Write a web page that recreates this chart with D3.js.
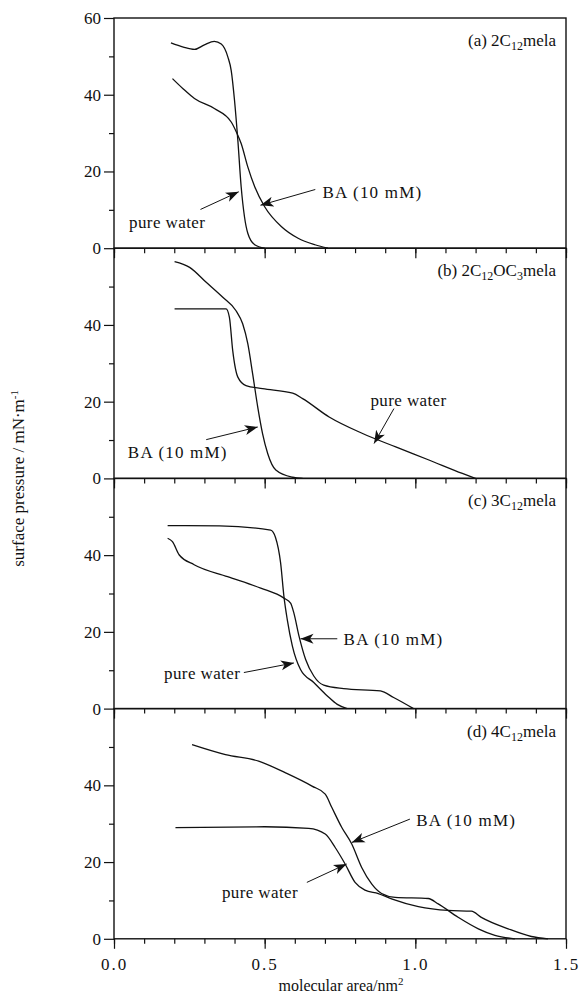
<!DOCTYPE html>
<html>
<head>
<meta charset="utf-8">
<script src="https://cdn.jsdelivr.net/npm/d3@7"></script>
<style>
  body { margin: 0; background: #fff; }
  text { font-family: "Liberation Serif", "DejaVu Serif", serif; fill: #111; }
</style>
</head>
<body>
<div class="chart"></div>
<script>
var width = 583;
var height = 994;

// panel captions: [before subscript, subscript, ...]
var panelLabels = [
  ["(a) 2C", "12", "mela"],
  ["(b) 2C", "12", "OC", "3", "mela"],
  ["(c) 3C", "12", "mela"],
  ["(d) 4C", "12", "mela"]
];

// isotherms, [area nm^2, pressure mN/m]
var pureA = [[0.189,53.5],[0.23,52.4],[0.267,51.8],[0.30,53],[0.333,53.9],[0.356,53.2],[0.378,49.8],[0.389,46.3],[0.4,38.5],[0.411,28.1],[0.422,16],[0.433,8.2],[0.444,3.9],[0.467,0.9],[0.5,0]];
var baA = [[0.194,44.2],[0.23,41.5],[0.267,39],[0.333,36.4],[0.389,32.9],[0.406,30.3],[0.422,27.3],[0.444,21.2],[0.467,16],[0.5,10.8],[0.556,5.6],[0.611,2.6],[0.667,0.9],[0.71,0]];

var pureB = [[0.201,44.2],[0.372,44.2],[0.383,42],[0.394,33.3],[0.411,26.4],[0.438,24.2],[0.493,23.4],[0.593,22.2],[0.626,20.8],[0.714,16],[0.825,11.7],[0.935,8.2],[1.045,4.8],[1.156,1.3],[1.2,0]];
var baB = [[0.201,56.5],[0.251,55],[0.306,51.1],[0.361,47.2],[0.405,43.7],[0.427,40.3],[0.444,35.1],[0.46,27.3],[0.477,18.6],[0.493,11.7],[0.51,6.5],[0.537,2.2],[0.593,0.3],[0.626,0]];

var pureC = [[0.178,47.7],[0.35,47.6],[0.52,46.5],[0.536,44.6],[0.553,37.9],[0.564,29.2],[0.575,23.2],[0.592,16.3],[0.619,10.2],[0.663,6.8],[0.708,3.3],[0.741,1.1],[0.774,0]];
var baC = [[0.178,44.4],[0.194,43.5],[0.216,40.1],[0.266,37.5],[0.377,34.4],[0.487,31.4],[0.564,28.8],[0.586,27.5],[0.597,24.9],[0.614,18.9],[0.636,12.8],[0.663,8.5],[0.696,6.1],[0.762,5.2],[0.884,4.6],[0.928,2.9],[0.994,0]];

var pureD = [[0.204,29],[0.5,29.2],[0.646,28.8],[0.701,27.3],[0.734,23.8],[0.767,19.5],[0.8,14.7],[0.833,12.7],[0.877,11.8],[0.921,10.4],[1.01,8.4],[1.109,7.4],[1.186,7.2],[1.219,5.6],[1.308,2.6],[1.385,0.6],[1.44,0]];
var baD = [[0.259,50.6],[0.37,48],[0.48,46.3],[0.568,43.3],[0.657,39.8],[0.701,37.7],[0.723,34.2],[0.756,29],[0.789,24.7],[0.822,18.6],[0.855,14.3],[0.888,11.8],[0.933,10.8],[1.043,10.5],[1.076,9.1],[1.142,5.6],[1.209,2.6],[1.264,0.9],[1.33,0]];

var pureSeries = [pureA, pureB, pureC, pureD];
var baSeries = [baA, baB, baC, baD];

// annotations: text anchor (x,y) and arrow from -> to, in data units
var pureNotes = [
  {tx: 0.05, ty: 5.3, x1: 0.287, y1: 10.1, x2: 0.414, y2: 14.7},
  {tx: 0.851, ty: 19, x1: 0.929, y1: 18.2, x2: 0.863, y2: 9.1},
  {tx: 0.166, ty: 7.6, x1: 0.431, y1: 9.4, x2: 0.597, y2: 11.9},
  {tx: 0.358, ty: 10.7, x1: 0.64, y1: 14.7, x2: 0.772, y2: 19.5}
];
var baNotes = [
  {tx: 0.692, ty: 13, x1: 0.668, y1: 15.3, x2: 0.486, y2: 11.2},
  {tx: 0.046, ty: 5.3, x1: 0.306, y1: 10.1, x2: 0.477, y2: 13.4},
  {tx: 0.762, ty: 16.7, x1: 0.741, y1: 18.2, x2: 0.619, y2: 18.2},
  {tx: 1.003, ty: 29.4, x1: 0.982, y1: 31.2, x2: 0.789, y2: 25.1}
];

var xMajor = [0, 0.5, 1.0, 1.5];
var xMinor = d3.range(0, 1.51, 0.1);
var yMajorFirst = [0, 20, 40, 60];
var yMajor = [0, 20, 40];
var yMinor = [10, 30, 50];

var left = 114, right = 566;
var top0 = 18, panelH = 230.2;

var svg = d3.select("div.chart").append("svg")
    .attr("width", width)
    .attr("height", height);

svg.append("defs").append("marker")
    .attr("id", "arr")
    .attr("markerUnits", "userSpaceOnUse")
    .attr("markerWidth", 14).attr("markerHeight", 11)
    .attr("refX", 13).attr("refY", 5.5)
    .attr("orient", "auto")
  .append("path")
    .attr("d", "M0,0.5 L13,5.5 L0,10.5 L3.5,5.5 Z")
    .attr("fill", "#111");

var x = d3.scaleLinear().domain([0, 1.5]).range([left, right]);

var this_y;
var line = d3.line()
    .x(function(d){ return x(d[0]) })
    .y(function(d){ return this_y(d[1]) })
    .curve(d3.curveMonotoneX);

for (var i = 0; i < 4; i++) {
  var pTop = top0 + i * panelH;
  var y = d3.scaleLinear().domain([0, 60]).range([pTop + panelH, pTop]);
  this_y = y;
  var g = svg.append("g");

  // y axis, major ticks outward with labels
  var ya = g.append("g").attr("transform", "translate(" + left + ",0)")
      .call(d3.axisLeft(y).tickValues(i == 0 ? yMajorFirst : yMajor).tickSize(10).tickPadding(3).tickFormat(d3.format("d")));
  ya.select(".domain").remove();
  ya.selectAll("text").style("font-size", "17px").attr("fill", "#111");
  var ym = g.append("g").attr("transform", "translate(" + left + ",0)")
      .call(d3.axisLeft(y).tickValues(yMinor).tickSize(5).tickFormat(""));
  ym.select(".domain").remove();

  // x ticks hanging below each zero line
  var xa = g.append("g").attr("transform", "translate(0," + y(0) + ")")
      .call(d3.axisBottom(x).tickValues(xMajor).tickSize(10).tickPadding(9)
        .tickFormat(i == 3 ? d3.format(".1f") : ""));
  xa.select(".domain").remove();
  xa.selectAll("text").style("font-size", "17px").style("letter-spacing", "2px").attr("fill", "#111");
  var xm = g.append("g").attr("transform", "translate(0," + y(0) + ")")
      .call(d3.axisBottom(x).tickValues(xMinor).tickSize(5).tickFormat(""));
  xm.select(".domain").remove();
  g.selectAll(".tick line").attr("stroke", "#111").attr("stroke-width", 1.2);

  // frame
  g.append("rect")
      .attr("x", left).attr("y", pTop)
      .attr("width", right - left).attr("height", panelH)
      .attr("fill", "none").attr("stroke", "#111").attr("stroke-width", 1.4);

  // curves
  [pureSeries[i], baSeries[i]].forEach(function(s) {
    g.append("path")
        .attr("d", line(s))
        .attr("fill", "none")
        .attr("stroke", "#111")
        .attr("stroke-width", 1.3);
  });

  // caption
  var cap = g.append("text")
      .attr("x", right - 10).attr("y", pTop + 28)
      .attr("text-anchor", "end")
      .style("font-size", "17px");
  panelLabels[i].forEach(function(part, k) {
    var sub = k % 2 == 1;
    cap.append("tspan")
        .attr("dy", sub ? 4 : (k > 0 ? -4 : 0))
        .style("font-size", sub ? "12px" : "17px")
        .text(part);
  });

  // annotations
  [[pureNotes[i], "pure water"], [baNotes[i], "BA (10 mM)"]].forEach(function(n) {
    var a = n[0];
    g.append("text")
        .attr("x", x(a.tx)).attr("y", this_y(a.ty))
        .style("font-size", "17px")
        .style("letter-spacing", n[1] == "pure water" ? "0.4px" : "1.2px")
        .text(n[1]);
    g.append("line")
        .attr("x1", x(a.x1)).attr("y1", this_y(a.y1))
        .attr("x2", x(a.x2)).attr("y2", this_y(a.y2))
        .attr("stroke", "#111").attr("stroke-width", 1)
        .attr("marker-end", "url(#arr)");
  });
}

// axis titles
var xt = svg.append("text")
    .attr("x", 341).attr("y", 991)
    .attr("text-anchor", "middle")
    .style("font-size", "16px");
xt.append("tspan").text("molecular area/nm");
xt.append("tspan").attr("dy", -6).style("font-size", "11px").text("2");

var yt = svg.append("text")
    .attr("transform", "translate(24," + (top0 + 2 * panelH) + ") rotate(-90)")
    .attr("text-anchor", "middle")
    .style("font-size", "17px");
yt.append("tspan").text("surface pressure / mN\u00b7m");
yt.append("tspan").attr("dy", -6).style("font-size", "11px").text("-1");
</script>
</body>
</html>
